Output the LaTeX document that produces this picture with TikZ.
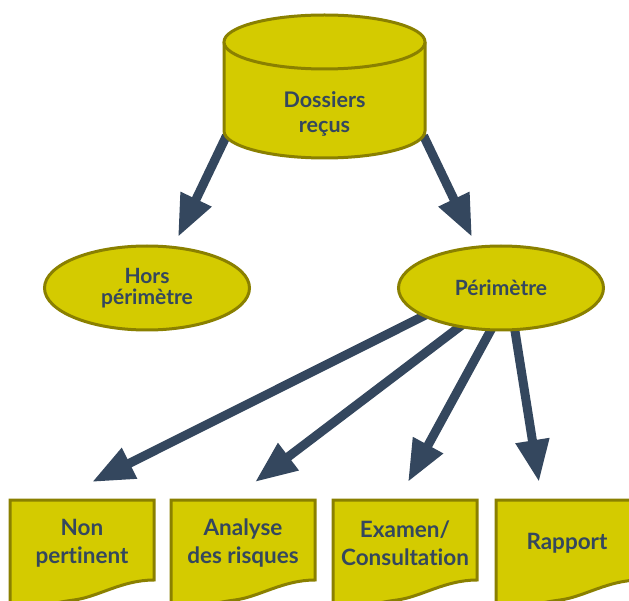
\documentclass[tikz,border=0pt]{standalone}
\usepackage{fontspec}
\setmainfont{Lato}[Ligatures=NoCommon]
\usetikzlibrary{arrows.meta,shapes.geometric,backgrounds,calc}
\definecolor{fillY}{RGB}{212,203,0}
\definecolor{edgeY}{RGB}{138,128,0}
\definecolor{ink}{RGB}{52,71,94}

% document outline (flowchart "document" symbol), shifted horizontally
\newcommand\docsymbol[1]{%
  \begin{scope}[shift={(#1,0)}]
    \draw[shapeline] (0,500) -- (144,500) -- (144,580)
      .. controls (112,580) and (88,597) .. (64,600)
      .. controls (40,603) and (20,610) .. (0,614) -- cycle;
  \end{scope}}

\begin{document}
\begin{tikzpicture}[x=1pt,y=-1pt,
  shapeline/.style={draw=edgeY, line width=3pt, fill=fillY},
  txt/.style={font=\bfseries\fontsize{21.5}{25}\selectfont, text=ink, align=center},
  elltxt/.style={txt, font=\bfseries\fontsize{21}{20.5}\selectfont},
  doctxt/.style={txt, font=\bfseries\fontsize{22.5}{28}\selectfont},
  arr/.style={draw=ink, line width=9pt, -{Triangle[width=32pt,length=42pt]}},
]
\useasboundingbox (0,0) rectangle (629,601);
\clip (0,0) rectangle (629,601);

% cylinder "Dossiers reçus"
\fill[fillY] (224,42) -- (224,131) arc[start angle=180, end angle=0, x radius=100.5, y radius=27] -- (425,42) -- cycle;
\draw[edgeY, line width=3pt] (224,42) -- (224,131) arc[start angle=180, end angle=0, x radius=100.5, y radius=27] -- (425,42);
\draw[shapeline] (324.5,42) ellipse [x radius=100.5, y radius=27];
\node[txt] (cyl) at (324.5,114) {Dossiers\\reçus};
\coordinate (cylL) at (223,143);
\coordinate (cylR) at (427,143);

% ellipses
\node[ellipse, shapeline, minimum width=205pt, minimum height=84pt, elltxt, inner sep=0pt] (hors) at (147,288) {Hors\\périmètre};
\node[ellipse, shapeline, minimum width=205pt, minimum height=84pt, elltxt, inner sep=0pt] (per) at (501,288) {Périmètre};

% documents
\docsymbol{10}
\docsymbol{171}
\docsymbol{333}
\docsymbol{496}
\node[doctxt] (docA) at (82,543) {Non\\pertinent};
\node[doctxt] (docB) at (243,543) {Analyse\\des risques};
\node[doctxt] (docC) at (405,543) {Examen/\\Consultation};
\node[doctxt] (docD) at (567,543) {Rapport};

% arrow tips, just above their targets
\coordinate (tHors) at (178,237);
\coordinate (tPer) at (472,237);
\coordinate (tA) at (92,482);
\coordinate (tB) at (255,482);
\coordinate (tC) at (408,482);
\coordinate (tD) at (539,482);

\begin{scope}[on background layer]
  \draw[arr] ($(cylL)!-8pt!(tHors)$) -- (tHors);
  \draw[arr] ($(cylR)!-8pt!(tPer)$) -- (tPer);
  \draw[arr] ($(per.200)!-10pt!(tA)$) -- (tA);
  \draw[arr] ($(per.223)!-10pt!(tB)$) -- (tB);
  \draw[arr] ($(per.256)!-10pt!(tC)$) -- (tC);
  \draw[arr] ($(per.288)!-10pt!(tD)$) -- (tD);
\end{scope}
\end{tikzpicture}
\end{document}
